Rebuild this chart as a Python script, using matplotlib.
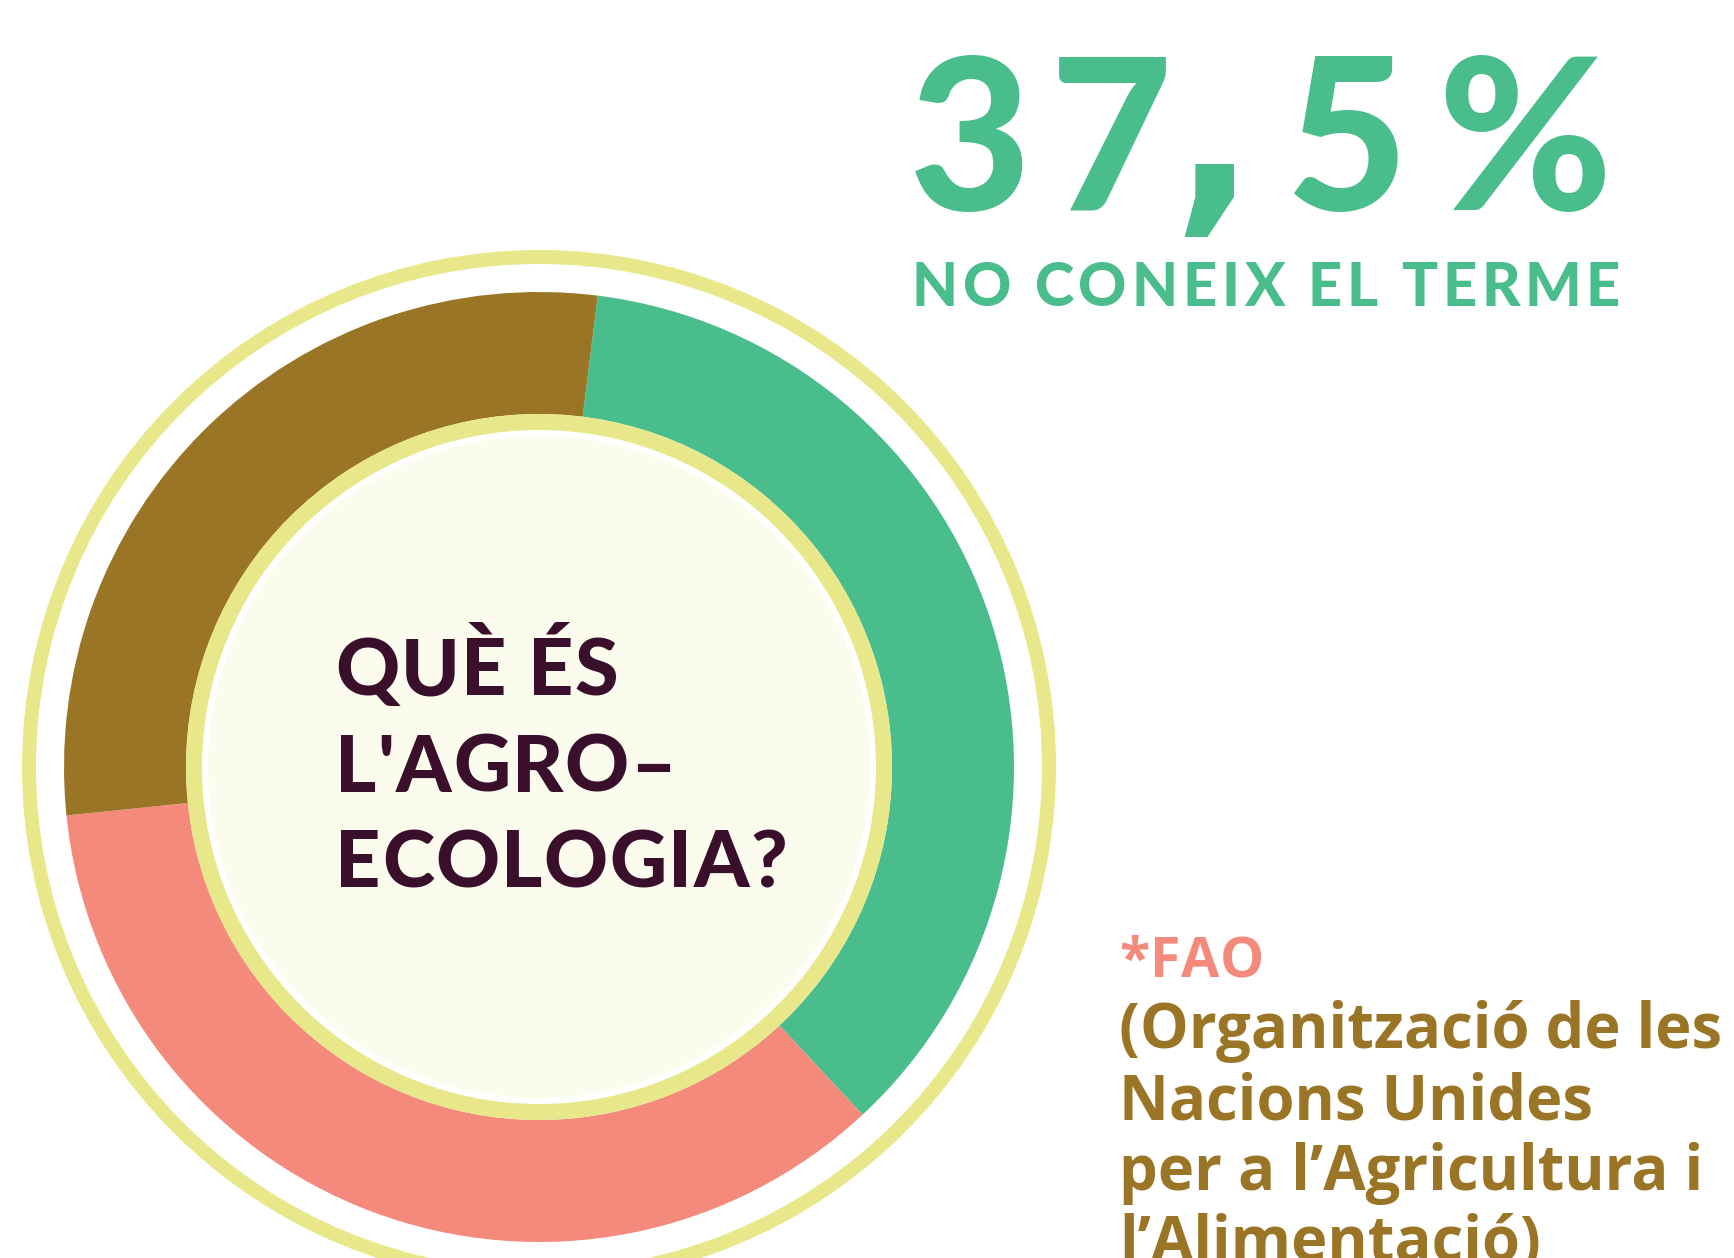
import matplotlib
matplotlib.use("Agg")
import matplotlib.pyplot as plt
from matplotlib.patches import Circle
from matplotlib.font_manager import FontProperties

W, H = 1734, 1258

# ---- data (shares read from the drawn arcs) ----
segments = ["No coneix el terme", "Segment B", "Segment C"]
shares = [36.1, 35.3, 28.6]
seg_colors = ["#4ABD8D", "#F38A7B", "#9B7526"]
headline_chars = ["3", "7", ",", "5", "%"]
headline_label = "NO CONEIX EL TERME"
center_lines = ["QUÈ ÉS", "L'AGRO–", "ECOLOGIA?"]
note_title = "*FAO"
note_lines = ["(Organització de les", "Nacions Unides",
              "per a l’Agricultura i", "l’Alimentació)"]

GREEN, SALMON, BROWN = "#4ABD8D", "#F38A7B", "#9B7526"
YELLOW = "#E8E88A"
CREAM = "#FBFCEE"
DARK = "#3A0F2B"

fig = plt.figure(figsize=(W / 100, H / 100), dpi=100)
fig.patch.set_facecolor("white")
ax = fig.add_axes([0, 0, 1, 1])

cx, cy = 539, H - 767
R_out, R_in = 475, 350
ax.pie(shares, colors=seg_colors, startangle=90 - 7.1, counterclock=False,
       radius=R_out, center=(cx, cy), frame=True,
       wedgeprops=dict(width=R_out - R_in, linewidth=0))
ax.set_xlim(0, W)
ax.set_ylim(0, H)
ax.set_aspect("auto")
ax.axis("off")

PX = 0.72  # px -> pt at dpi 100
ax.add_patch(Circle((cx, cy), 510, fill=False, ec=YELLOW, lw=14 * PX, zorder=3))
ax.add_patch(Circle((cx, cy), 353, fc="white", ec="none", zorder=4))
ax.add_patch(Circle((cx, cy), 345, fill=False, ec=YELLOW, lw=16 * PX, zorder=5))
ax.add_patch(Circle((cx, cy), 331, fc=CREAM, ec="none", zorder=5))

renderer = fig.canvas.get_renderer()


def char_w(c, fp):
    if c == " ":
        a = renderer.get_text_width_height_descent("n n", fp, ismath=False)[0]
        b = renderer.get_text_width_height_descent("nn", fp, ismath=False)[0]
        return a - b
    return renderer.get_text_width_height_descent(c, fp, ismath=False)[0]


def text_w(s, fp):
    return renderer.get_text_width_height_descent(s, fp, ismath=False)[0]


def spacing_for(text, fp, target):
    ws = [char_w(c, fp) for c in text]
    return (target - sum(ws)) / (len(text) - 1)


def draw_spaced(text, x, base_px, fp, color, gap):
    y = H - base_px
    for c in text:
        w = char_w(c, fp)
        if c != " ":
            ax.text(x, y, c, fontproperties=fp, color=color,
                    ha="left", va="baseline", zorder=10)
        x += w + gap


# ---- headline 37,5% ----
fp_big = FontProperties(family=["Lato", "DejaVu Sans"], weight="black", size=152)
fp_comma = FontProperties(family=["DejaVu Sans"], weight="bold", size=158)
head_centers = [970, 1111, 1214, 1346, 1525]
head_bases = [210, 210, 206, 210, 210]
for ch, xc, b in zip(headline_chars, head_centers, head_bases):
    ax.text(xc, H - b, ch, fontproperties=fp_comma if ch == "," else fp_big,
            color=GREEN, ha="center", va="baseline", zorder=10)

fp_lab = FontProperties(family=["Lato", "DejaVu Sans"], weight="black", size=43)
g = spacing_for(headline_label, fp_lab, 1620 - 912)
draw_spaced(headline_label, 912, 306, fp_lab, GREEN, g)

# ---- centre question ----
fp_c = FontProperties(family=["Lato", "DejaVu Sans"], weight="black", size=57)
g = spacing_for(center_lines[2], fp_c, 452)
for line, base in zip(center_lines, [695, 792, 887]):
    draw_spaced(line, 335, base, fp_c, DARK, g)

# ---- FAO note ----
fp_t = FontProperties(family=["Open Sans", "DejaVu Sans"], weight="bold", size=40)
g = spacing_for(note_title, fp_t, 1264 - 1119)
draw_spaced(note_title, 1119, 977, fp_t, SALMON, g)

fp_n = FontProperties(family=["Open Sans", "DejaVu Sans"], weight="bold", size=40)
fp_n.set_size(40 * (1722 - 1119) / text_w(note_lines[0], fp_n))
for line, base in zip(note_lines, [1048, 1119, 1190, 1261]):
    ax.text(1119, H - base, line, fontproperties=fp_n, color=BROWN,
            ha="left", va="baseline", zorder=10)

fig.savefig("out.png", dpi=100, facecolor="white")
